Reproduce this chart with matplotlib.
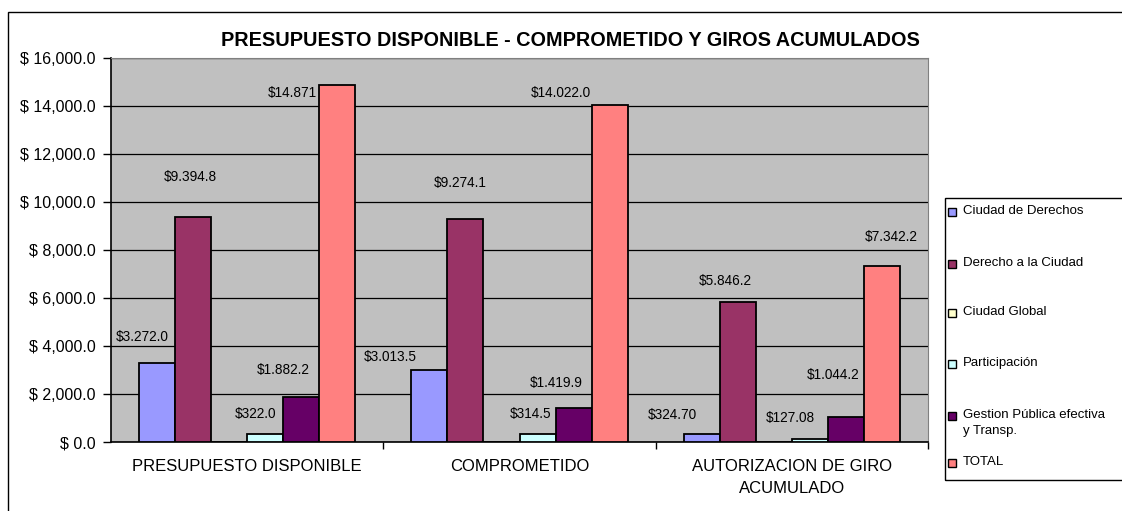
"""Presupuesto disponible, comprometido y giros acumulados (grouped bars)."""

import matplotlib

matplotlib.use("Agg")
import matplotlib.pyplot as plt
import numpy as np
from matplotlib.patches import Rectangle

plt.rcParams["font.family"] = ["Liberation Sans", "DejaVu Sans"]

categories = ["PRESUPUESTO DISPONIBLE", "COMPROMETIDO", "AUTORIZACION DE GIRO\nACUMULADO"]
series_names = [
    "Ciudad de Derechos",
    "Derecho a la Ciudad",
    "Ciudad Global",
    "Participación",
    "Gestion Pública efectiva\ny Transp.",
    "TOTAL",
]
ciudad_derechos = [3272.0, 3013.5, 324.70]
derecho_ciudad = [9394.8, 9274.1, 5846.2]
ciudad_global = [0.0, 0.0, 0.0]
participacion = [322.0, 314.5, 127.08]
gestion_publica = [1882.2, 1419.9, 1044.2]
total = [14871.0, 14022.0, 7342.2]

label_ciudad_derechos = ["$3.272.0", "$3.013.5", "$324.70"]
label_derecho_ciudad = ["$9.394.8", "$9.274.1", "$5.846.2"]
label_ciudad_global = [None, None, None]
label_participacion = ["$322.0", "$314.5", "$127.08"]
label_gestion_publica = ["$1.882.2", "$1.419.9", "$1.044.2"]
label_total = ["$14.871", "$14.022.0", "$7.342.2"]

yticks = np.arange(0, 16001, 2000)
ytick_labels = [f"$ {v:,.1f}" for v in yticks]

colors = ["#9999FF", "#993366", "#FFFFCC", "#CCFFFF", "#660066", "#FF8080"]
# label offsets in pixels from the top-centre of each bar (Excel placed them by hand)
label_offsets = [
    [(-15, 26), (-39, 13), (-29, 19)],
    [(-3, 40), (-5, 36), (-12, 21)],
    [(0, 0), (0, 0), (0, 0)],
    [(-10, 20), (-7, 20), (-19, 21)],
    [(-18, 27), (-17, 25), (-13, 42)],
    [(-45, -8), (-49, 12), (9, 29)],
]

values = [ciudad_derechos, derecho_ciudad, ciudad_global, participacion, gestion_publica, total]
labels = [label_ciudad_derechos, label_derecho_ciudad, label_ciudad_global,
          label_participacion, label_gestion_publica, label_total]

W, H = 1122, 511
fig = plt.figure(figsize=(W / 100, H / 100), dpi=100)
fig.patches.append(Rectangle((8 / W, -0.1), 1.2, 1 - 12 / H + 0.1, transform=fig.transFigure,
                             fill=False, edgecolor="black", lw=1.0))

ax = fig.add_axes([111 / W, 1 - 442 / H, (928 - 111) / W, (442 - 58) / H])
ax.set_facecolor("#C0C0C0")

x = np.arange(len(categories))
width = 36 / 272
for i, (vals, labs, col, offs) in enumerate(zip(values, labels, colors, label_offsets)):
    pos = x + (i - 2.5) * width
    ax.bar(pos, vals, width=width, color=col, edgecolor="black", lw=1.3, zorder=3)
    for px, v, lab, (dx, dy) in zip(pos, vals, labs, offs):
        if lab is None:
            continue
        ax.annotate(lab, (px, v), xytext=(dx, dy), textcoords="offset pixels",
                    ha="center", va="center", fontsize=9.8, zorder=4)

ax.set_xlim(-0.5, 2.5)
ax.set_ylim(0, 16000)
ax.set_yticks(yticks)
ax.set_yticklabels(ytick_labels, fontsize=11.5)
ax.yaxis.grid(True, color="black", lw=0.9, zorder=1)
ax.tick_params(axis="y", direction="out", length=6, width=1, pad=5)

ax.set_xticks([0.5, 1.5, 2.5])
ax.set_xticklabels([])
ax.tick_params(axis="x", direction="out", length=5, width=1)
for xi, cat in zip(x, categories):
    ax.text(xi, -0.045, cat, transform=ax.get_xaxis_transform(), ha="center", va="top",
            fontsize=12, linespacing=1.6)

for side in ["top", "right"]:
    ax.spines[side].set_color("#808080")
    ax.spines[side].set_linewidth(0.8)
for side in ["left", "bottom"]:
    ax.spines[side].set_linewidth(1.2)

fig.text(570 / W, 1 - 40 / H, "PRESUPUESTO DISPONIBLE - COMPROMETIDO Y GIROS ACUMULADOS",
         ha="center", va="center", fontsize=14.3, fontweight="bold")

# legend drawn by hand to keep Excel's loose spacing
fig.patches.append(Rectangle((945 / W, 1 - 480 / H), 1.0, (480 - 198) / H,
                             transform=fig.transFigure, fill=False, edgecolor="black", lw=1.0))
legend_y = [212, 264, 313, 364, 416, 463]
for name, col, ly in zip(series_names, colors, legend_y):
    fig.patches.append(Rectangle((948 / W, 1 - (ly + 4) / H), 8 / W, 8 / H,
                                 transform=fig.transFigure, facecolor=col,
                                 edgecolor="black", lw=1.0))
    fig.text(963 / W, 1 - (ly - 7) / H, name, ha="left", va="top", fontsize=9.5,
             linespacing=1.45)

fig.savefig("out.png", dpi=100)
